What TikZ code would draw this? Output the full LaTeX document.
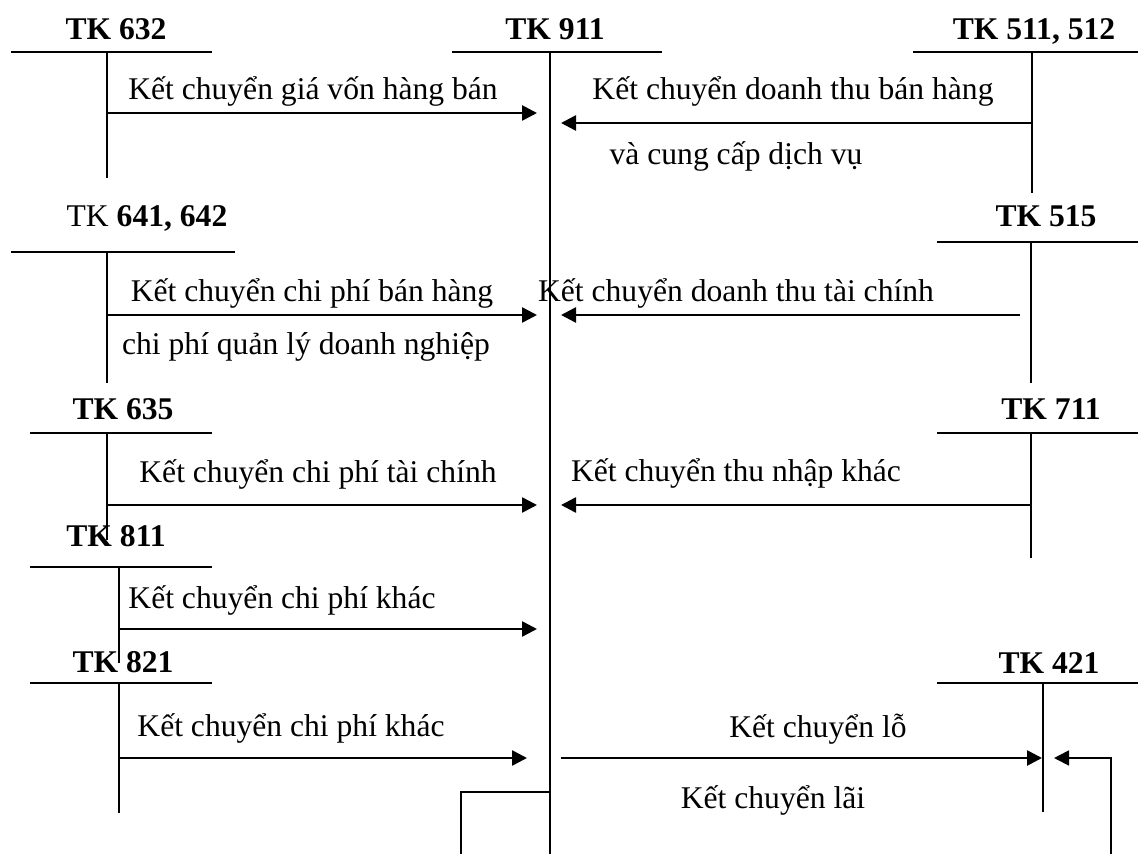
\documentclass[tikz,border=0pt]{standalone}
\usepackage{fontspec}
\setmainfont{Liberation Serif}
\usepackage{tikz}
\usetikzlibrary{
  arrows.meta,
  positioning
}
\tikzset{
  tklabel/.style={font=\fontsize{15.8}{19}\selectfont\bfseries,
    inner sep=0pt, anchor=base},
  notetext/.style={font=\fontsize{15.8}{19}\selectfont,
    inner sep=0pt, anchor=base},
  tline/.style={line width=0.9pt},
  arr/.style={-{Triangle[length=7.5pt,width=7.5pt]}, line width=1.3pt},
  tarr/.style={-{Triangle[length=7.5pt,width=7.5pt]}, line width=0.9pt},
}

\begin{document}
\begin{tikzpicture}[x=0.5pt,y=-0.5pt]
  \useasboundingbox (0,0) rectangle (1138,854);

  % TK 911
  \node[tklabel] (tk911) at (555,40) {TK 911};
  \coordinate (l911) at (452,52);
  \coordinate (r911) at (662,52);
  \coordinate (t911) at (550,52);
  \coordinate (b911) at (550,854);
  \draw[tline] (l911) -- (r911);
  \draw[tline] (t911) -- (b911);

  % TK 632
  \node[tklabel] (tk632) at (116,40) {TK 632};
  \coordinate (l632) at (11,52);
  \coordinate (r632) at (212,52);
  \coordinate (t632) at (107,52);
  \coordinate (b632) at (107,178);
  \draw[tline] (l632) -- (r632);
  \draw[tline] (t632) -- (b632);
  \coordinate (s632) at (107,113);
  \coordinate (e632) at (537,113);
  \draw[arr] (s632) -- (e632);
  \node[notetext] (n632) at (313,100) {Kết chuyển giá vốn hàng bán};

  % TK 511, 512
  \node[tklabel] (tk511) at (1034,40) {TK 511, 512};
  \coordinate (l511) at (913,52);
  \coordinate (r511) at (1138,52);
  \coordinate (t511) at (1032,52);
  \coordinate (b511) at (1032,193);
  \draw[tline] (l511) -- (r511);
  \draw[tline] (t511) -- (b511);
  \coordinate (s511) at (1032,123);
  \coordinate (e511) at (561,123);
  \draw[arr] (s511) -- (e511);
  \node[notetext] (n511a) at (793,100) {Kết chuyển doanh thu bán hàng};
  \node[notetext] (n511b) at (736,165) {và cung cấp dịch vụ};

  % TK 641, 642
  \node[tklabel, font=\fontsize{15.8}{19}\selectfont] (tk641) at (147,227)
    {TK \textbf{641, 642}};
  \coordinate (l641) at (11,252);
  \coordinate (r641) at (235,252);
  \coordinate (t641) at (107,252);
  \coordinate (b641) at (107,383);
  \draw[tline] (l641) -- (r641);
  \draw[tline] (t641) -- (b641);
  \coordinate (s641) at (107,315);
  \coordinate (e641) at (537,315);
  \draw[arr] (s641) -- (e641);
  \node[notetext] (n641a) at (312,302) {Kết chuyển chi phí bán hàng};
  \node[notetext] (n641b) at (306,355) {chi phí quản lý doanh nghiệp};

  % TK 515
  \node[tklabel] (tk515) at (1046,227) {TK 515};
  \coordinate (l515) at (937,242);
  \coordinate (r515) at (1138,242);
  \coordinate (t515) at (1031,242);
  \coordinate (b515) at (1031,383);
  \draw[tline] (l515) -- (r515);
  \draw[tline] (t515) -- (b515);
  \coordinate (s515) at (1020,315);
  \coordinate (e515) at (561,315);
  \draw[arr] (s515) -- (e515);
  \node[notetext] (n515) at (736,302) {Kết chuyển doanh thu tài chính};

  % TK 635
  \node[tklabel] (tk635) at (123,420) {TK 635};
  \coordinate (l635) at (30,433);
  \coordinate (r635) at (212,433);
  \coordinate (t635) at (107,433);
  \coordinate (b635) at (107,540);
  \draw[tline] (l635) -- (r635);
  \draw[tline] (t635) -- (b635);
  \coordinate (s635) at (107,505);
  \coordinate (e635) at (537,505);
  \draw[arr] (s635) -- (e635);
  \node[notetext] (n635) at (318,482) {Kết chuyển chi phí tài chính};

  % TK 711
  \node[tklabel] (tk711) at (1051,420) {TK 711};
  \coordinate (l711) at (937,433);
  \coordinate (r711) at (1138,433);
  \coordinate (t711) at (1031,433);
  \coordinate (b711) at (1031,558);
  \draw[tline] (l711) -- (r711);
  \draw[tline] (t711) -- (b711);
  \coordinate (s711) at (1031,505);
  \coordinate (e711) at (561,505);
  \draw[arr] (s711) -- (e711);
  \node[notetext] (n711) at (736,481) {Kết chuyển thu nhập khác};

  % TK 811
  \node[tklabel] (tk811) at (116,546) {TK 811};
  \coordinate (l811) at (30,567);
  \coordinate (r811) at (212,567);
  \coordinate (t811) at (119,567);
  \coordinate (b811) at (119,663);
  \draw[tline] (l811) -- (r811);
  \draw[tline] (t811) -- (b811);
  \coordinate (s811) at (119,629);
  \coordinate (e811) at (537,629);
  \draw[arr] (s811) -- (e811);
  \node[notetext] (n811) at (282,608) {Kết chuyển chi phí khác};

  % TK 821
  \node[tklabel] (tk821) at (123,672) {TK 821};
  \coordinate (l821) at (30,683);
  \coordinate (r821) at (212,683);
  \coordinate (t821) at (119,683);
  \coordinate (b821) at (119,813);
  \draw[tline] (l821) -- (r821);
  \draw[tline] (t821) -- (b821);
  \coordinate (s821) at (119,758);
  \coordinate (e821) at (527,758);
  \draw[arr] (s821) -- (e821);
  \node[notetext] (n821) at (291,736) {Kết chuyển chi phí khác};

  % TK 421
  \node[tklabel] (tk421) at (1049,673) {TK 421};
  \coordinate (l421) at (937,683);
  \coordinate (r421) at (1138,683);
  \coordinate (t421) at (1043,683);
  \coordinate (b421) at (1043,812);
  \draw[tline] (l421) -- (r421);
  \draw[tline] (t421) -- (b421);

  % lo: 911 -> 421
  \coordinate (slo) at (561,758);
  \coordinate (elo) at (1042,758);
  \draw[arr] (slo) -- (elo);
  \node[notetext] (nlo) at (818,737) {Kết chuyển lỗ};

  % lai: 911 -> 421, round the bottom
  \coordinate (slai) at (550,792);
  \coordinate (k1lai) at (461,792);
  \coordinate (k2lai) at (461,854);
  \draw[tline] (slai) -- (k1lai) -- (k2lai);
  \coordinate (k3lai) at (1111,854);
  \coordinate (k4lai) at (1111,758);
  \coordinate (elai) at (1054,758);
  \draw[tarr] (k3lai) -- (k4lai) -- (elai);
  \node[notetext] (nlai) at (773,808) {Kết chuyển lãi};
\end{tikzpicture}
\end{document}
